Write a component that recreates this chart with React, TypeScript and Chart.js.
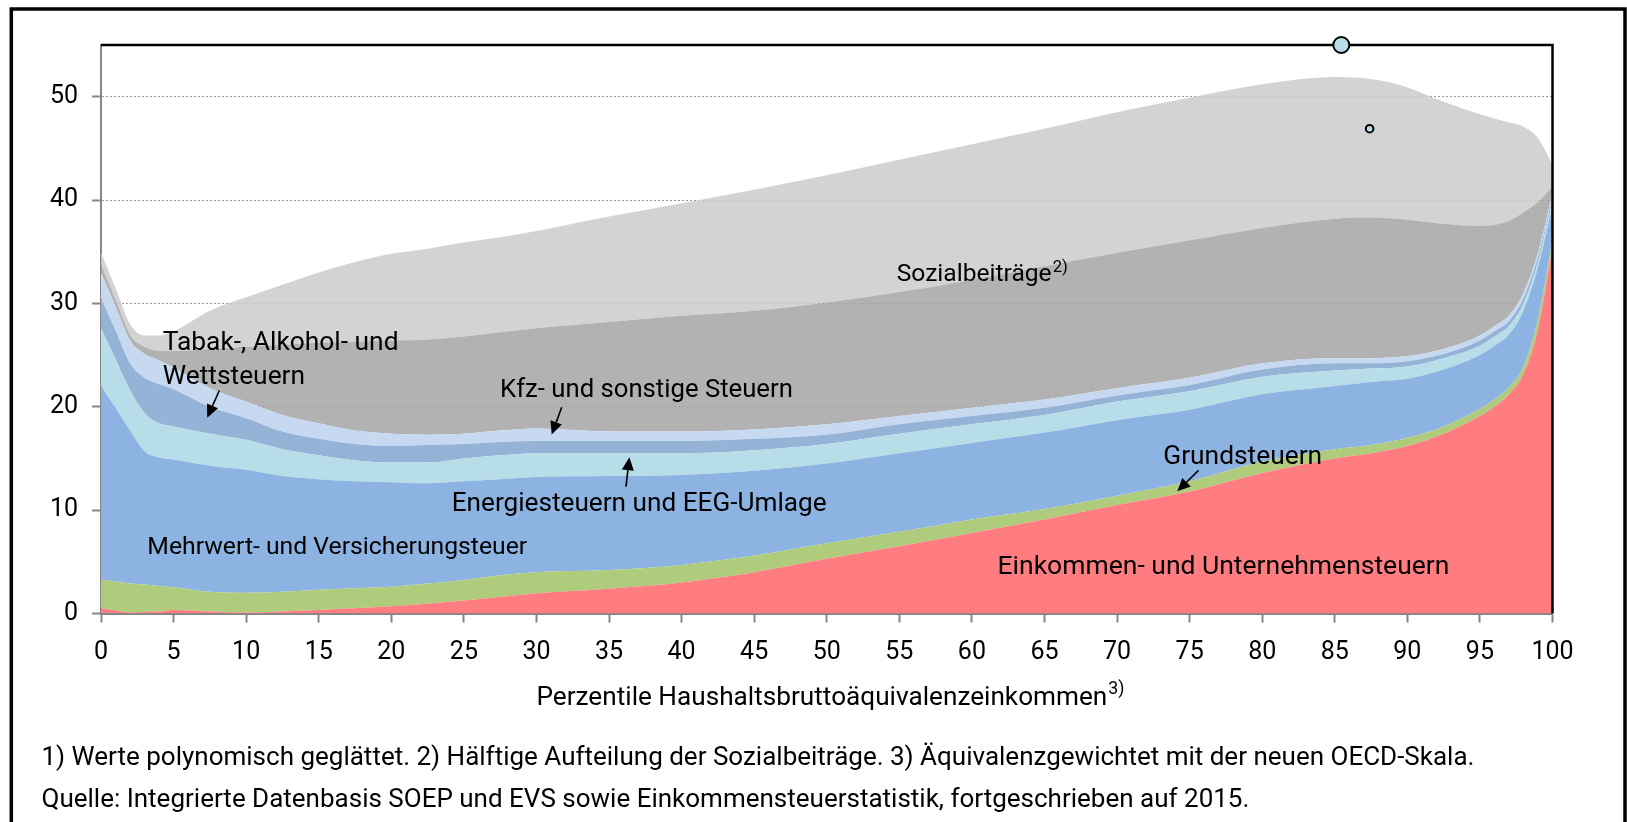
import React, { useEffect, useRef } from 'react';
import { Chart, registerables } from 'chart.js';

Chart.register(...registerables);

// Perzentile (x)
const percentiles = [0, 1, 2, 3, 4, 5, 7.5, 10, 12.5, 15, 17.5, 20, 22.5, 25, 27.5, 30, 35, 40, 45, 50, 55, 60, 65, 70, 75, 80, 85, 87.5, 90, 92.5, 95, 96, 97, 98, 99, 100];

// Belastung in % (stacked layers, bottom to top)
const einkommen = [0.5, 0.3, 0.1, 0.15, 0.2, 0.35, 0.2, 0.1, 0.2, 0.35, 0.5, 0.7, 0.95, 1.25, 1.6, 1.95, 2.4, 3.0, 4.0, 5.3, 6.5, 7.8, 9.1, 10.5, 11.8, 13.6, 15.0, 15.5, 16.2, 17.4, 19.1, 20.0, 21.2, 23.2, 27.5, 35.4];
const grund = [2.8, 2.8, 2.8, 2.65, 2.45, 2.2, 1.9, 1.9, 1.9, 1.95, 1.95, 1.9, 1.95, 2.0, 2.1, 2.05, 1.8, 1.7, 1.6, 1.5, 1.4, 1.3, 1.0, 0.9, 1.0, 1.1, 0.9, 0.8, 0.8, 0.7, 0.7, 0.7, 0.7, 0.7, 1.0, 0.7];
const mehrwert = [18.7, 16.8, 14.8, 12.9, 12.45, 12.35, 12.2, 11.9, 11.2, 10.7, 10.35, 10.1, 9.7, 9.55, 9.3, 9.2, 9.1, 8.7, 8.2, 7.7, 7.6, 7.4, 7.4, 7.3, 6.9, 6.5, 6.1, 6.1, 5.7, 5.5, 5.2, 5.2, 5.1, 5.4, 5.0, 3.3];
const energie = [5.6, 4.7, 3.9, 3.7, 3.3, 3.2, 3.1, 2.9, 2.6, 2.3, 2.0, 1.9, 2.0, 2.2, 2.3, 2.3, 2.2, 2.1, 2.0, 1.9, 1.9, 1.8, 1.7, 1.8, 1.8, 1.7, 1.5, 1.3, 1.2, 1.1, 0.9, 0.9, 0.8, 0.7, 0.5, 0.5];
const tabak = [2.9, 2.8, 2.6, 3.4, 3.8, 3.6, 2.6, 2.1, 1.7, 1.6, 1.6, 1.6, 1.7, 1.4, 1.3, 1.2, 1.2, 1.2, 1.1, 0.9, 0.9, 0.8, 0.7, 0.6, 0.6, 0.7, 0.7, 0.5, 0.5, 0.4, 0.5, 0.5, 0.5, 0.5, 0.5, 0.4];
const kfz = [2.5, 2.3, 2.2, 2.3, 2.3, 2.1, 1.8, 1.6, 1.6, 1.5, 1.3, 1.2, 1.0, 1.0, 1.1, 1.2, 0.9, 0.9, 0.9, 1.0, 0.8, 0.8, 0.8, 0.7, 0.7, 0.6, 0.5, 0.5, 0.5, 0.5, 0.5, 0.5, 0.5, 0.5, 0.4, 0.3];
const sozialA = [0.8, 0.7, 0.6, 0.7, 0.9, 1.6, 3.8, 5.3, 6.8, 7.8, 8.6, 9.0, 9.2, 9.4, 9.5, 9.7, 10.6, 11.2, 11.5, 11.8, 12.0, 12.4, 12.9, 13.1, 13.3, 13.1, 13.5, 13.6, 13.2, 12.1, 10.6, 9.8, 9.2, 7.8, 4.9, 0.7];
const sozialB = [1.1, 1.1, 1.0, 1.1, 1.5, 1.9, 3.7, 4.8, 5.8, 6.8, 7.7, 8.4, 8.8, 9.1, 9.2, 9.4, 10.2, 10.9, 11.7, 12.3, 12.8, 13.1, 13.3, 13.6, 13.8, 13.9, 13.7, 13.4, 12.8, 11.8, 10.8, 10.3, 9.5, 8.3, 6.2, 2.1];

const seriesNames = [
  'Einkommen- und Unternehmensteuern',
  'Grundsteuern',
  'Mehrwert- und Versicherungsteuer',
  'Energiesteuern und EEG-Umlage',
  'Tabak-, Alkohol- und Wettsteuern',
  'Kfz- und sonstige Steuern',
  'Sozialbeiträge (1. Hälfte)',
  'Sozialbeiträge (2. Hälfte)',
];
const seriesValues = [einkommen, grund, mehrwert, energie, tabak, kfz, sozialA, sozialB];
const seriesColors = ['#FF7C80', '#AFCB7C', '#8DB3E2', '#B7DDE8', '#95B3D7', '#C6D9F1', 'rgba(164,164,164,0.85)', 'rgba(203,203,203,0.85)'];

// stray markers
const markerX = [85.45, 87.4];
const markerY = [55, 46.9];

// axis ticks
const xMin = 0, xMax = 100, xStep = 5;
const yMin = 0, yMax = 55, yStep = 10;

const xTitle = 'Perzentile Haushaltsbruttoäquivalenzeinkommen';
const xTitleSup = '3)';
const footnote1 = '1) Werte polynomisch geglättet. 2) Hälftige Aufteilung der Sozialbeiträge. 3) Äquivalenzgewichtet mit der neuen OECD-Skala.';
const footnote2 = 'Quelle: Integrierte Datenbasis SOEP und EVS sowie Einkommensteuerstatistik, fortgeschrieben auf 2015.';

const FONT = 'Roboto, "Open Sans", sans-serif';

// labels placed in data coordinates
const labels = [
  { lines: ['Tabak-, Alkohol- und', 'Wettsteuern'], p: 4.25, v: 25.5, width: 236, align: 'left' },
  { lines: ['Kfz- und sonstige Steuern'], p: 27.49, v: 20.92, width: 293, align: 'left' },
  { lines: ['Energiesteuern und EEG-Umlage'], p: 24.16, v: 9.96, width: 375, align: 'left' },
  { lines: ['Grundsteuern'], p: 73.18, v: 14.49, width: 159, align: 'left' },
  { lines: ['Einkommen- und Unternehmensteuern'], p: 92.9, v: 3.8, width: 452, align: 'right' },
  { lines: ['Mehrwert- und Versicherungsteuer'], p: 3.19, v: 5.8, width: 380, align: 'left' },
  { lines: ['Sozialbeiträge'], p: 54.82, v: 32.14, width: 155, align: 'left', sup: '2)' },
];
const arrows = [
  { from: [8.15, 21.57], to: [7.32, 18.93] },
  { from: [31.74, 19.95], to: [31.05, 17.31] },
  { from: [36.17, 12.28], to: [36.4, 15.12] },
  { from: [75.61, 13.84], to: [74.15, 11.82] },
];

function fitSize(ctx: CanvasRenderingContext2D, text: string, width: number) {
  ctx.font = `100px ${FONT}`;
  const w = ctx.measureText(text).width;
  return (100 * width) / w;
}

function drawArrow(ctx: CanvasRenderingContext2D, x1: number, y1: number, x2: number, y2: number) {
  const ang = Math.atan2(y2 - y1, x2 - x1);
  const head = 13;
  const half = 6;
  const bx = x2 - head * Math.cos(ang);
  const by = y2 - head * Math.sin(ang);
  ctx.strokeStyle = '#000';
  ctx.fillStyle = '#000';
  ctx.lineWidth = 1.6;
  ctx.beginPath();
  ctx.moveTo(x1, y1);
  ctx.lineTo(bx, by);
  ctx.stroke();
  ctx.beginPath();
  ctx.moveTo(x2, y2);
  ctx.lineTo(bx + half * Math.sin(ang), by - half * Math.cos(ang));
  ctx.lineTo(bx - half * Math.sin(ang), by + half * Math.cos(ang));
  ctx.closePath();
  ctx.fill();
}

export default function App() {
  const ref = useRef<HTMLCanvasElement>(null);

  useEffect(() => {
    document.body.style.margin = '0';
    const canvas = ref.current;
    if (!canvas) return;

    const areaDatasets: any[] = seriesValues.map((vals, i) => ({
      type: 'line',
      label: seriesNames[i],
      data: vals.map((v, j) => ({ x: percentiles[j], y: v })),
      backgroundColor: seriesColors[i],
      borderColor: 'rgba(0,0,0,0)',
      borderWidth: 1,
      pointRadius: 0,
      fill: i === 0 ? 'origin' : '-1',
      cubicInterpolationMode: 'monotone',
      stack: 'taxes',
      order: 1,
    }));
    const markerIndex = areaDatasets.length;
    const markerDataset: any = {
      type: 'line',
      label: 'marker',
      data: markerX.map((x, i) => ({ x, y: markerY[i] })),
      showLine: false,
      pointRadius: [8, 3.8],
      pointBackgroundColor: '#B7DDE8',
      pointBorderColor: '#000',
      pointBorderWidth: 2,
      fill: false,
      clip: false,
      stack: 'markers',
      order: 0,
    };

    const overlay = {
      id: 'overlay',
      beforeDatasetDraw(chart: any, args: any) {
        if (args.index !== markerIndex) return;
        const { ctx, chartArea: ca } = chart;
        ctx.save();
        ctx.strokeStyle = '#000';
        ctx.lineWidth = 2.5;
        ctx.beginPath();
        ctx.moveTo(ca.left, ca.top);
        ctx.lineTo(ca.right, ca.top);
        ctx.lineTo(ca.right, ca.bottom);
        ctx.stroke();
        ctx.restore();
      },
      afterDraw(chart: any) {
        const { ctx, scales } = chart;
        const xs = scales.x;
        const ys = scales.y;
        const px = (p: number) => xs.getPixelForValue(p);
        const py = (v: number) => ys.getPixelForValue(v);
        ctx.save();
        ctx.fillStyle = '#000';
        ctx.textBaseline = 'alphabetic';

        labels.forEach((l) => {
          const size = fitSize(ctx, l.lines[0], l.width);
          ctx.font = `${size}px ${FONT}`;
          ctx.textAlign = l.align as CanvasTextAlign;
          l.lines.forEach((line, k) => {
            ctx.fillText(line, px(l.p), py(l.v) + k * size * 1.3);
          });
          if (l.sup) {
            const w = ctx.measureText(l.lines[0]).width;
            ctx.font = `${size * 0.68}px ${FONT}`;
            ctx.textAlign = 'left';
            ctx.fillText(l.sup, px(l.p) + w + 1, py(l.v) - size * 0.36);
          }
        });

        arrows.forEach((a) => drawArrow(ctx, px(a.from[0]), py(a.from[1]), px(a.to[0]), py(a.to[1])));

        // axis title with superscript
        const tSize = fitSize(ctx, xTitle, 571);
        ctx.font = `${tSize}px ${FONT}`;
        ctx.textAlign = 'left';
        ctx.fillText(xTitle, 536.5, 705);
        const tw = ctx.measureText(xTitle).width;
        ctx.font = `${tSize * 0.68}px ${FONT}`;
        ctx.fillText(xTitleSup, 536.5 + tw + 1, 694);

        // footnotes
        const fSize = fitSize(ctx, footnote1, 1433);
        ctx.font = `${fSize}px ${FONT}`;
        ctx.fillText(footnote1, 41.5, 765);
        ctx.fillText(footnote2, 41.5, 807);

        // outer frame
        ctx.strokeStyle = '#000';
        ctx.lineWidth = 3.5;
        ctx.beginPath();
        ctx.moveTo(11.3, 830);
        ctx.lineTo(11.3, 8.9);
        ctx.lineTo(1625, 8.9);
        ctx.lineTo(1625, 830);
        ctx.stroke();
        ctx.restore();
      },
    };

    const chart = new Chart(canvas, {
      type: 'line',
      data: { datasets: [...areaDatasets, markerDataset] },
      options: {
        animation: false,
        responsive: false,
        devicePixelRatio: 1,
        layout: { padding: { left: 0, right: 74.5, top: 45, bottom: 148.5 } },
        plugins: {
          legend: { display: false },
          tooltip: { enabled: false },
        },
        scales: {
          x: {
            type: 'linear',
            min: xMin,
            max: xMax,
            ticks: { stepSize: xStep, color: '#000', font: { family: FONT, size: 25 }, padding: 15, maxRotation: 0 },
            grid: { drawOnChartArea: false, drawTicks: true, tickLength: 9, tickColor: '#868686', tickWidth: 2 },
            border: { display: true, color: '#868686', width: 2 },
            afterFit: (s: any) => { s.height = 60; },
          },
          y: {
            type: 'linear',
            stacked: true,
            min: yMin,
            max: yMax,
            ticks: { stepSize: yStep, color: '#000', font: { family: FONT, size: 25 }, padding: 14 },
            afterBuildTicks: (s: any) => { s.ticks = s.ticks.filter((t: any) => t.value % yStep === 0); },
            grid: { color: '#9A9A9A', lineWidth: 1, drawTicks: true, tickLength: 9, tickColor: '#868686', tickWidth: 2 },
            border: { display: true, color: '#868686', width: 2, dash: [2, 2] },
            afterFit: (s: any) => { s.width = 101; },
          },
        },
      } as any,
      plugins: [overlay],
    });

    return () => chart.destroy();
  }, []);

  return (
    <div style={{ position: 'relative', width: 1627, height: 822, background: '#fff' }}>
      <canvas ref={ref} width={1627} height={822} style={{ display: 'block' }} />
    </div>
  );
}
